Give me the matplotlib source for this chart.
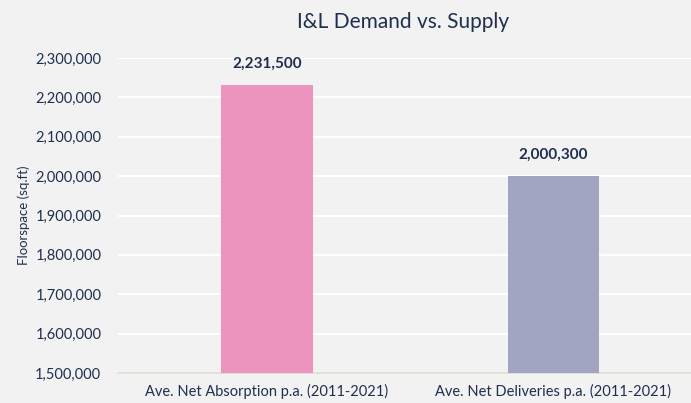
import matplotlib
matplotlib.use("Agg")
import matplotlib.pyplot as plt
from matplotlib.ticker import FuncFormatter

categories = ["Ave. Net Absorption p.a. (2011-2021)", "Ave. Net Deliveries p.a. (2011-2021)"]
values = [2231500, 2000300]
bar_colors = ["#EC93BE", "#A2A5C1"]
yticks = [1500000, 1600000, 1700000, 1800000, 1900000, 2000000, 2100000, 2200000, 2300000]

text_color = "#1F2F4F"
bg = "#F2F2F2"

plt.rcParams["font.family"] = ["Lato", "DejaVu Sans"]

fig = plt.figure(figsize=(6.91, 4.03), dpi=100, facecolor=bg)
ax = fig.add_axes([118 / 691, 1 - 373 / 403, 573 / 691, (373 - 58) / 403])
ax.set_facecolor(bg)

x = range(len(categories))
bars = ax.bar(x, values, width=0.32, color=bar_colors, zorder=3)

# labels above bars
for b, v in zip(bars, values):
    ax.annotate(f"{v:,}", (b.get_x() + b.get_width() / 2, v), xytext=(0, 10),
                textcoords="offset points", ha="center", va="bottom",
                fontsize=11, fontweight="bold", color=text_color)

ax.set_ylim(1500000, 2300000)
ax.set_xlim(-0.52, 1.48)
ax.set_yticks(yticks)
ax.yaxis.set_major_formatter(FuncFormatter(lambda v, p: f"{int(v):,}"))
ax.set_xticks(list(x))
ax.set_xticklabels(categories)
ax.tick_params(axis="both", length=0, labelsize=10.5, colors=text_color)
ax.tick_params(axis="x", pad=8)
ax.tick_params(axis="y", pad=12)

ax.grid(axis="y", color="white", linewidth=1.5, zorder=0)
for s in ["top", "right", "left"]:
    ax.spines[s].set_visible(False)
ax.spines["bottom"].set_color("#E2DCCF")
ax.spines["bottom"].set_linewidth(1.2)

ax.set_ylabel("Floorspace (sq.ft)", fontsize=9.5, color=text_color, labelpad=4)
fig.text(403 / 691, 1 - 22 / 403, "I&L Demand vs. Supply", ha="center", va="center",
         fontsize=15, color=text_color)

fig.savefig("out.png", dpi=100, facecolor=bg)
